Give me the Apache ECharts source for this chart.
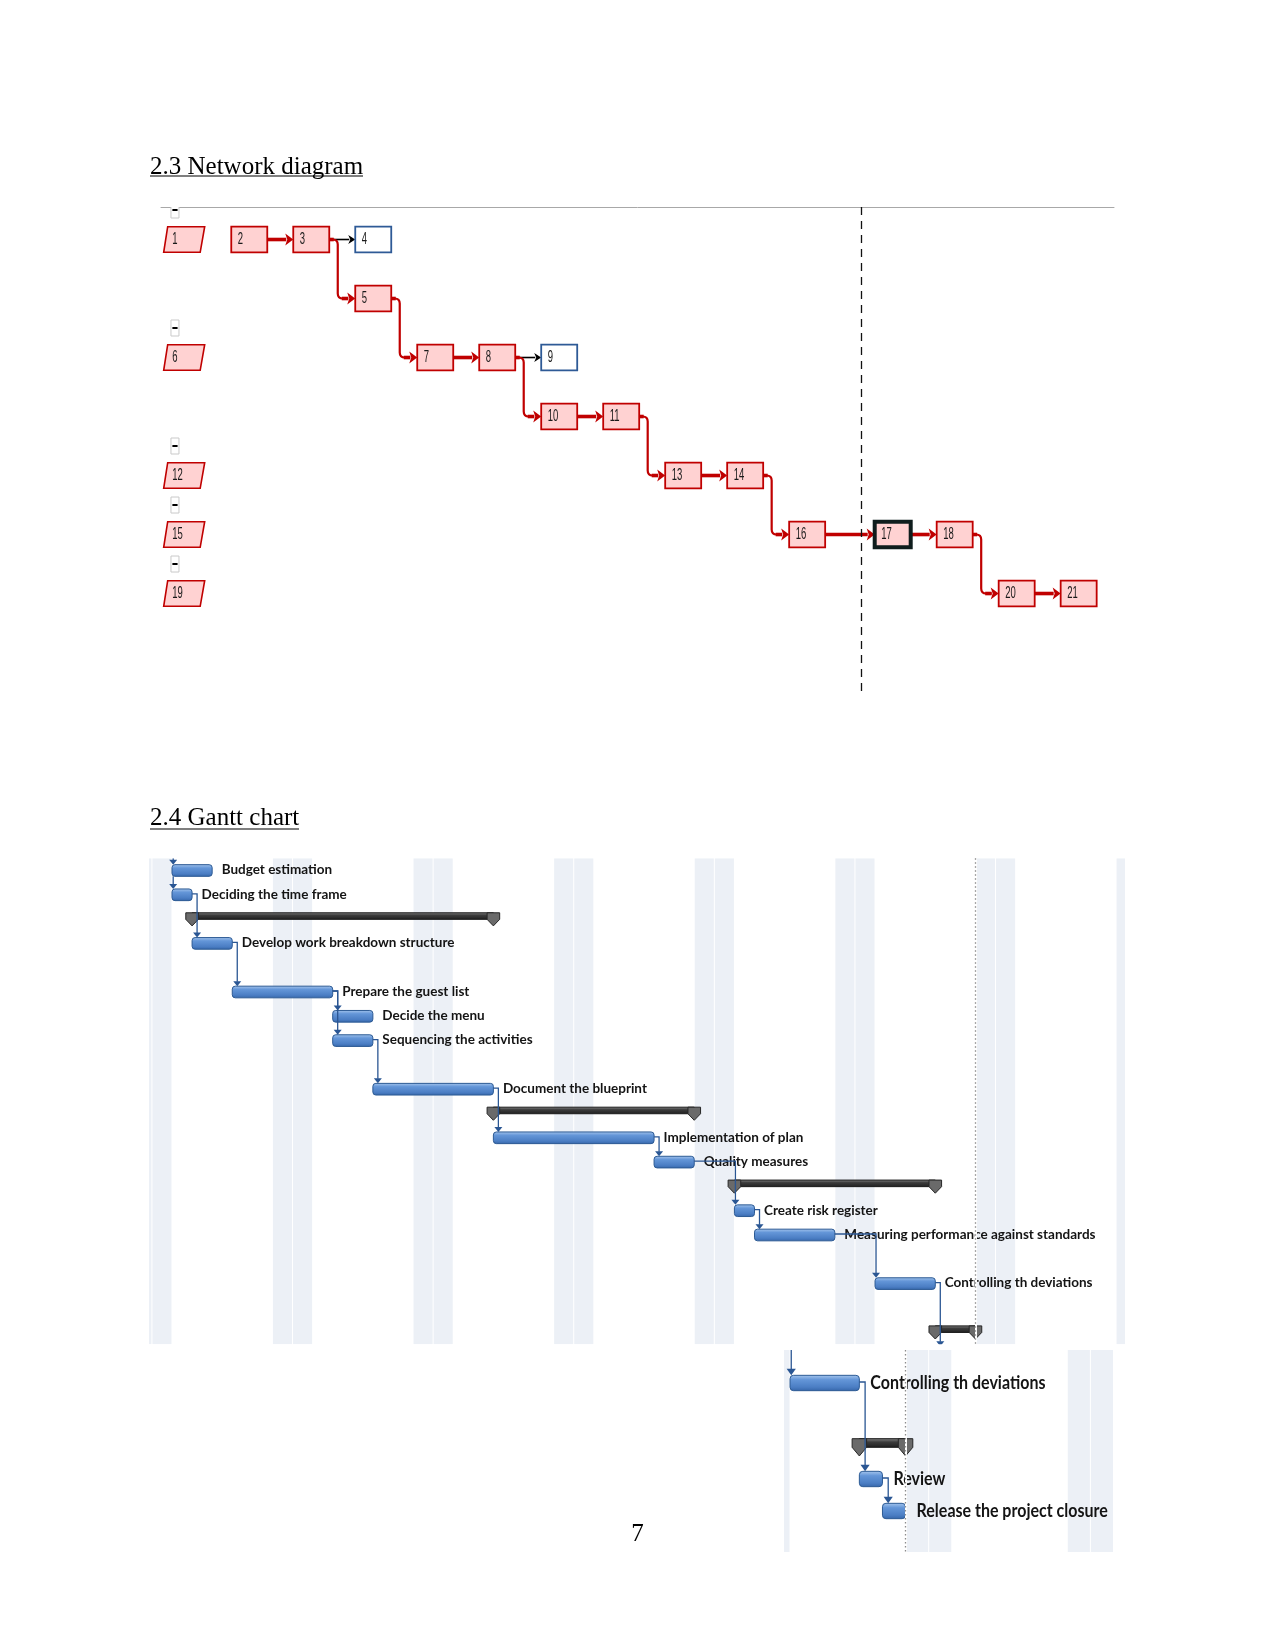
<!DOCTYPE html>
<html><head><meta charset="utf-8">
<script src="https://cdn.jsdelivr.net/npm/echarts@6/dist/echarts.min.js"></script>
<style>html,body{margin:0;padding:0;background:#fff}#c{width:1275px;height:1651px}</style>
</head><body><div id="c"></div><script>
// ---------- Network diagram data ----------
const nodeLabels = ['1','2','3','4','5','6','7','8','9','10','11','12','13','14','15','16','17','18','19','20','21'];
const nodeCols   = [-0.05,1,2,3,3,-0.05,4,5,6,6,7,-0.05,8,9,-0.05,10,11.38,12.38,-0.05,13.38,14.38];
const nodeRows   = [0,0,0,0,1,2,2,2,2,3,3,4,4,4,5,5,5,5,6,6,6];
const nodeKinds  = ['summary','critical','critical','normal','critical','summary','critical','critical','normal','critical','critical','summary','critical','critical','summary','critical','selected','critical','summary','critical','critical'];
const linkFrom   = ['2','3','3','5','7','8','8','10','11','13','14','16','17','18','20'];
const linkTo     = ['3','4','5','7','8','9','10','11','13','14','16','17','18','20','21'];
const linkCritical = [1,0,1,1,1,0,1,1,1,1,1,1,1,1,1];
const pageBreakCol = 10.88;

// ---------- Gantt chart data (days from project start) ----------
const ganttTasks = ['Budget estimation','Deciding the time frame','Develop work breakdown structure','Prepare the guest list','Decide the menu','Sequencing the activities','Document the blueprint','Implementation of plan','Quality measures','Create risk register','Measuring performance against standards','Controlling th deviations'];
const ganttStart = [0,0,1,3,8,8,10,16,24,28,29,35];
const ganttEnd   = [2,1,3,8,10,10,16,24,26,29,33,38];
const ganttRow   = [0,1,3,5,6,7,9,11,12,14,15,17];
const summaryStart = [1,16,28,38];
const summaryEnd   = [16,26,38,40];
const summaryRow   = [2,10,13,19];
const depFrom = [1,2,3,3,5,6,7,8,9,10];
const depTo   = [2,3,4,5,6,7,8,9,10,11];

// continuation (zoomed) part
const contTasks = ['Controlling th deviations','Review','Release the project closure'];
const contStart = [35,38,39];
const contEnd   = [38,39,40];
const contRow   = [0,3,4];
const contSummaryStart = [38];
const contSummaryEnd   = [40];
const contSummaryRow   = [2];
const contDepFrom = [0,1];
const contDepTo   = [1,2];

const weekendDays = [-2,-1,5,6,12,13,19,20,26,27,33,34,40,41,47,48];
const statusDay = 40;

// ---------- helpers ----------
const idx = id => nodeLabels.indexOf(id);
const RED = '#C00000';

function renderNode(params, api){
  const c = api.coord([api.value(0), api.value(1)]);
  const kind = nodeKinds[params.dataIndex];
  const label = nodeLabels[params.dataIndex];
  const ch = [];
  const hw = 18, hh = 12.8;
  if (kind === 'summary'){
    ch.push({type:'polygon', shape:{points:[[c[0]-16.5,c[1]-hh],[c[0]+20.5,c[1]-hh],[c[0]+16,c[1]+hh],[c[0]-20.5,c[1]+hh]]},
      style:{fill:'#FFD2D2', stroke:RED, lineWidth:1.6}});
    const bx = c[0]-9.2, by = c[1]-29.5;
    ch.push({type:'rect', shape:{x:bx-4, y:by-8, width:8, height:16}, style:{fill:'#fff', stroke:'#c9c9c9', lineWidth:1}});
    ch.push({type:'line', shape:{x1:bx-2.6, y1:by, x2:bx+2.6, y2:by}, style:{stroke:'#000', lineWidth:2}});
    ch.push({type:'text', x:c[0]-12, y:c[1], scaleY:1.8, style:{text:label, fontFamily:'Liberation Sans', fontSize:9.5, fill:'#1a1a1a', verticalAlign:'middle', align:'left'}});
  } else {
    let fill = '#FFD2D2', stroke = RED, lw = 1.8;
    if (kind === 'normal'){ fill = '#fff'; stroke = '#2E5A96'; }
    if (kind === 'selected'){ stroke = '#0f1d1d'; lw = 4; }
    ch.push({type:'rect', shape:{x:c[0]-hw, y:c[1]-hh, width:2*hw, height:2*hh}, style:{fill, stroke, lineWidth:lw}});
    ch.push({type:'text', x:c[0]-hw+6.5, y:c[1], scaleY:1.8, style:{text:label, fontFamily:'Liberation Sans', fontSize:9.5, fill:'#1a1a1a', verticalAlign:'middle', align:'left'}});
  }
  return {type:'group', children:ch};
}

function renderLink(params, api){
  const a = api.coord([api.value(0), api.value(1)]);
  const b = api.coord([api.value(2), api.value(3)]);
  const crit = linkCritical[params.dataIndex];
  const color = crit ? RED : '#000';
  const x1 = a[0]+18, y1 = a[1], x2 = b[0]-18, y2 = b[1];
  const al = crit ? 8 : 7, ah = crit ? 6 : 4.5;
  const hwid = crit ? 3.6 : 1.6;
  const ch = [];
  if (Math.abs(y2-y1) < 1){
    ch.push({type:'line', shape:{x1, y1, x2:x2-al+1, y2:y1}, style:{stroke:color, lineWidth:hwid}});
  } else {
    const xv = x1+8.5, r = 5;
    const d = `M ${x1} ${y1} L ${xv-r} ${y1} Q ${xv} ${y1} ${xv} ${y1+r} L ${xv} ${y2-r} Q ${xv} ${y2} ${xv+r} ${y2} L ${x2-al+1} ${y2}`;
    ch.push({type:'path', shape:{pathData:d}, style:{stroke:color, lineWidth:2.2, fill:null}});
    ch.push({type:'line', shape:{x1, y1, x2:xv-r+1, y2:y1}, style:{stroke:color, lineWidth:hwid}});
    ch.push({type:'line', shape:{x1:xv+r-1, y1:y2, x2:x2-al+1, y2:y2}, style:{stroke:color, lineWidth:hwid}});
  }
  ch.push({type:'polygon', shape:{points:[[x2,y2],[x2-al,y2-ah],[x2-al+2,y2],[x2-al,y2+ah]]}, style:{fill:color}});
  return {type:'group', children:ch};
}

function blueGrad(){
  return new echarts.graphic.LinearGradient(0,0,0,1,[
    {offset:0,color:'#A9C8EE'},{offset:0.3,color:'#6496D8'},{offset:0.75,color:'#4B7EC4'},{offset:1,color:'#3565A8'}]);
}
function greyGrad(){
  return new echarts.graphic.LinearGradient(0,0,0,1,[
    {offset:0,color:'#8a8a8a'},{offset:0.4,color:'#3c3c3c'},{offset:1,color:'#1e1e1e'}]);
}

function makeTaskRender(names, o){
  return function(params, api){
    const s = api.coord([api.value(0), api.value(2)]);
    const e = api.coord([api.value(1), api.value(2)]);
    const sz = api.size([1,1]);
    const h = sz[1]*0.24, kx = sz[0]/20.086;
    return {type:'group', children:[
      {type:'rect', shape:{x:s[0], y:s[1]-h, width:e[0]-s[0], height:2*h, r:3*kx}, style:{fill:blueGrad(), stroke:'#2C5A94', lineWidth:1}},
      {type:'text', x:e[0]+o.gap, y:s[1]+o.dy, scaleY:o.sy, style:{text:names[params.dataIndex], fontFamily:'Lato', fontSize:o.fs, fontWeight:o.fw, fill:'#141414', verticalAlign:'middle', align:'left'}}
    ]};
  };
}

function renderSummary(params, api){
  const s = api.coord([api.value(0), api.value(2)]);
  const e = api.coord([api.value(1), api.value(2)]);
  const sz = api.size([1,1]);
  const rp = sz[1], kx = sz[0]/20.086;
  const top = s[1]-0.26*rp, bh = 0.27*rp, cb = s[1]+0.28*rp, hw = 6.3*kx;
  const cap = cx => ({type:'polygon', shape:{points:[[cx-hw,top],[cx+hw,top],[cx+hw,top+bh],[cx,cb],[cx-hw,top+bh]]},
    style:{fill:'#6a6a6a', stroke:'#262626', lineWidth:1}});
  return {type:'group', children:[
    {type:'rect', shape:{x:s[0], y:top, width:e[0]-s[0], height:bh}, style:{fill:greyGrad(), stroke:'#1a1a1a', lineWidth:1}},
    cap(s[0]), cap(e[0])
  ]};
}

function makeDepRender(kinds){
  return function(params, api){
    const kind = kinds[params.dataIndex];
    const p = api.coord([api.value(0), api.value(1)]);
    const q = api.coord([api.value(2), api.value(3)]);
    const sz = api.size([1,1]);
    const h = sz[1]*0.24, kx = sz[0]/20.086, ky = sz[1]/24.3;
    const cs = params.coordSys;
    const aw = 4*kx, ah = 5*ky;
    const col = '#2A5693';
    const ls = {stroke:col, lineWidth:1.3, fill:null};
    const ch = [];
    let xv, pts, tip;
    if (kind === 'fs'){
      xv = (api.value(2) > api.value(0)) ? q[0]+1 : p[0]+5*kx;
      tip = q[1]-h;
      pts = [[p[0],p[1]-1],[xv,p[1]-1],[xv,tip-ah+0.5]];
    } else if (kind === 'ss'){
      xv = p[0]+1.2; tip = q[1]-h;
      pts = [[xv,p[1]+h],[xv,tip-ah+0.5]];
    } else if (kind === 'in'){
      xv = q[0]+1.2; tip = q[1]-h;
      pts = [[xv,cs.y],[xv,tip-ah+0.5]];
    } else {
      xv = p[0]+5*kx; tip = cs.y+cs.height+2;
      pts = [[p[0],p[1]-1],[xv,p[1]-1],[xv,tip-ah+0.5]];
    }
    ch.push({type:'polyline', shape:{points:pts}, style:ls});
    ch.push({type:'polygon', shape:{points:[[xv-aw,tip-ah],[xv+aw,tip-ah],[xv,tip]]}, style:{fill:col}});
    return {type:'group', children:ch};
  };
}

function renderStripe(params, api){
  const d = api.value(0);
  const a = api.coord([d, 0])[0], b = api.coord([d+1, 0])[0];
  const cs = params.coordSys;
  return {type:'rect', shape:{x:a+0.5, y:cs.y, width:b-a-1, height:cs.height}, style:{fill:'#ECF0F6'}};
}

// ---------- build data ----------
const nodeData = nodeLabels.map((l,i)=>[nodeCols[i], nodeRows[i]]);
const linkData = linkFrom.map((f,i)=>{const a=idx(f), b=idx(linkTo[i]); return [nodeCols[a],nodeRows[a],nodeCols[b],nodeRows[b]];});
const taskData = ganttTasks.map((n,i)=>[ganttStart[i], ganttEnd[i], ganttRow[i]]);
const sumData = summaryStart.map((s,i)=>[s, summaryEnd[i], summaryRow[i]]);
const depData = [], depKinds = [];
depData.push([ganttStart[0], -0.5, ganttStart[0], ganttRow[0]]); depKinds.push('in');
depData.push([ganttStart[0], ganttRow[0], ganttStart[1], ganttRow[1]]); depKinds.push('ss');
depFrom.forEach((f,i)=>{const t=depTo[i]; depData.push([ganttEnd[f], ganttRow[f], ganttStart[t], ganttRow[t]]); depKinds.push('fs');});
depData.push([ganttEnd[11], ganttRow[11], ganttEnd[11], 19.5]); depKinds.push('out');

const contTaskData = contTasks.map((n,i)=>[contStart[i], contEnd[i], contRow[i]]);
const contSumData = contSummaryStart.map((s,i)=>[s, contSummaryEnd[i], contSummaryRow[i]]);
const contDepData = [], contDepKinds = [];
contDepData.push([contStart[0], -1, contStart[0], contRow[0]]); contDepKinds.push('in');
contDepFrom.forEach((f,i)=>{const t=contDepTo[i]; contDepData.push([contEnd[f], contRow[f], contStart[t], contRow[t]]); contDepKinds.push('fs');});
const stripeData = weekendDays.map(d=>[d,0]);

const hidden = {axisLine:{show:false}, axisTick:{show:false}, axisLabel:{show:false}, splitLine:{show:false}};
const statusLines = (xi, yi) => ([
  {type:'line', xAxisIndex:xi, yAxisIndex:yi, data:[], z:20, silent:true,
   markLine:{silent:true, symbol:['none','none'], label:{show:false}, animation:false,
     data:[{xAxis:statusDay}], lineStyle:{color:'#ffffff', width:2, type:'solid'}}},
  {type:'line', xAxisIndex:xi, yAxisIndex:yi, data:[], z:21, silent:true,
   markLine:{silent:true, symbol:['none','none'], label:{show:false}, animation:false,
     data:[{xAxis:statusDay}], lineStyle:{color:'#8c8c8c', width:1.3, type:[1.5,2.5]}}}
]);

const option = {
  animation:false,
  backgroundColor:'#ffffff',
  grid:[
    {left:161, top:207, width:953, height:488},
    {left:149.9, top:858.35, width:974.2, height:486},
    {left:784.5, top:1350, width:329, height:202}
  ],
  xAxis:[
    {gridIndex:0, type:'value', min:-0.424, max:14.95, position:'top',
     axisLine:{show:true, onZero:false, lineStyle:{color:'#a8a8a8', width:1}}, axisTick:{show:false}, axisLabel:{show:false}, splitLine:{show:false}},
    Object.assign({gridIndex:1, type:'value', min:-1.1, max:47.4}, hidden),
    Object.assign({gridIndex:2, type:'value', min:34.76, max:49.0}, hidden)
  ],
  yAxis:[
    Object.assign({gridIndex:0, type:'value', inverse:true, min:-0.551, max:7.72}, hidden),
    Object.assign({gridIndex:1, type:'value', inverse:true, min:-0.5, max:19.5}, hidden),
    Object.assign({gridIndex:2, type:'value', inverse:true, min:-1.031, max:5.281}, hidden)
  ],
  graphic:[
    {type:'text', x:150, y:167, style:{text:'2.3 Network diagram', fontFamily:'Liberation Serif', fontSize:25, fill:'#000', verticalAlign:'middle'}},
    {type:'line', shape:{x1:150, y1:176, x2:363, y2:176}, style:{stroke:'#000', lineWidth:1.2}},
    {type:'text', x:150, y:818.5, style:{text:'2.4 Gantt chart', fontFamily:'Liberation Serif', fontSize:25, fill:'#000', verticalAlign:'middle'}},
    {type:'line', shape:{x1:150, y1:829, x2:299, y2:829}, style:{stroke:'#000', lineWidth:1.2}},
    {type:'text', x:637.5, y:1534, style:{text:'7', fontFamily:'Liberation Serif', fontSize:25, fill:'#000', align:'center', verticalAlign:'middle'}}
  ],
  series:[
    // network
    {type:'custom', name:'links', xAxisIndex:0, yAxisIndex:0, renderItem:renderLink, data:linkData, encode:{x:[0,2], y:[1,3]}, z:2, silent:true},
    {type:'custom', name:'nodes', xAxisIndex:0, yAxisIndex:0, renderItem:renderNode, data:nodeData, encode:{x:0, y:1}, z:3, clip:true, silent:true},
    {type:'line', xAxisIndex:0, yAxisIndex:0, data:[], z:4, silent:true,
     markLine:{silent:true, symbol:['none','none'], label:{show:false}, animation:false, data:[{xAxis:pageBreakCol}], lineStyle:{color:'#111', width:1.3, type:[8,6]}}},
    // gantt main
    {type:'custom', name:'weekends', xAxisIndex:1, yAxisIndex:1, renderItem:renderStripe, data:stripeData, encode:{x:0, y:1}, z:1, clip:true, silent:true},
    {type:'custom', name:'summaries', xAxisIndex:1, yAxisIndex:1, renderItem:renderSummary, data:sumData, encode:{x:[0,1], y:2}, z:3, silent:true},
    {type:'custom', name:'tasks', xAxisIndex:1, yAxisIndex:1, renderItem:makeTaskRender(ganttTasks,{gap:9.5, dy:-0.5, sy:1, fs:13.5, fw:'bold'}), data:taskData, encode:{x:[0,1], y:2}, z:4, silent:true},
    {type:'custom', name:'deps', xAxisIndex:1, yAxisIndex:1, renderItem:makeDepRender(depKinds), data:depData, encode:{x:[0,2], y:[1,3]}, z:6, clip:true, silent:true},
    ...statusLines(1,1),
    // gantt continuation
    {type:'custom', name:'weekends2', xAxisIndex:2, yAxisIndex:2, renderItem:renderStripe, data:stripeData, encode:{x:0, y:1}, z:1, clip:true, silent:true},
    {type:'custom', name:'summaries2', xAxisIndex:2, yAxisIndex:2, renderItem:renderSummary, data:contSumData, encode:{x:[0,1], y:2}, z:3, silent:true},
    {type:'custom', name:'tasks2', xAxisIndex:2, yAxisIndex:2, renderItem:makeTaskRender(contTasks,{gap:11, dy:0, sy:1.15, fs:16, fw:'bold'}), data:contTaskData, encode:{x:[0,1], y:2}, z:4, silent:true},
    {type:'custom', name:'deps2', xAxisIndex:2, yAxisIndex:2, renderItem:makeDepRender(contDepKinds), data:contDepData, encode:{x:[0,2], y:[1,3]}, z:6, clip:true, silent:true},
    ...statusLines(2,2)
  ]
};
const chart = echarts.init(document.getElementById('c'), null, {renderer:'canvas', width:1275, height:1651});
chart.setOption(option);
</script></body></html>
